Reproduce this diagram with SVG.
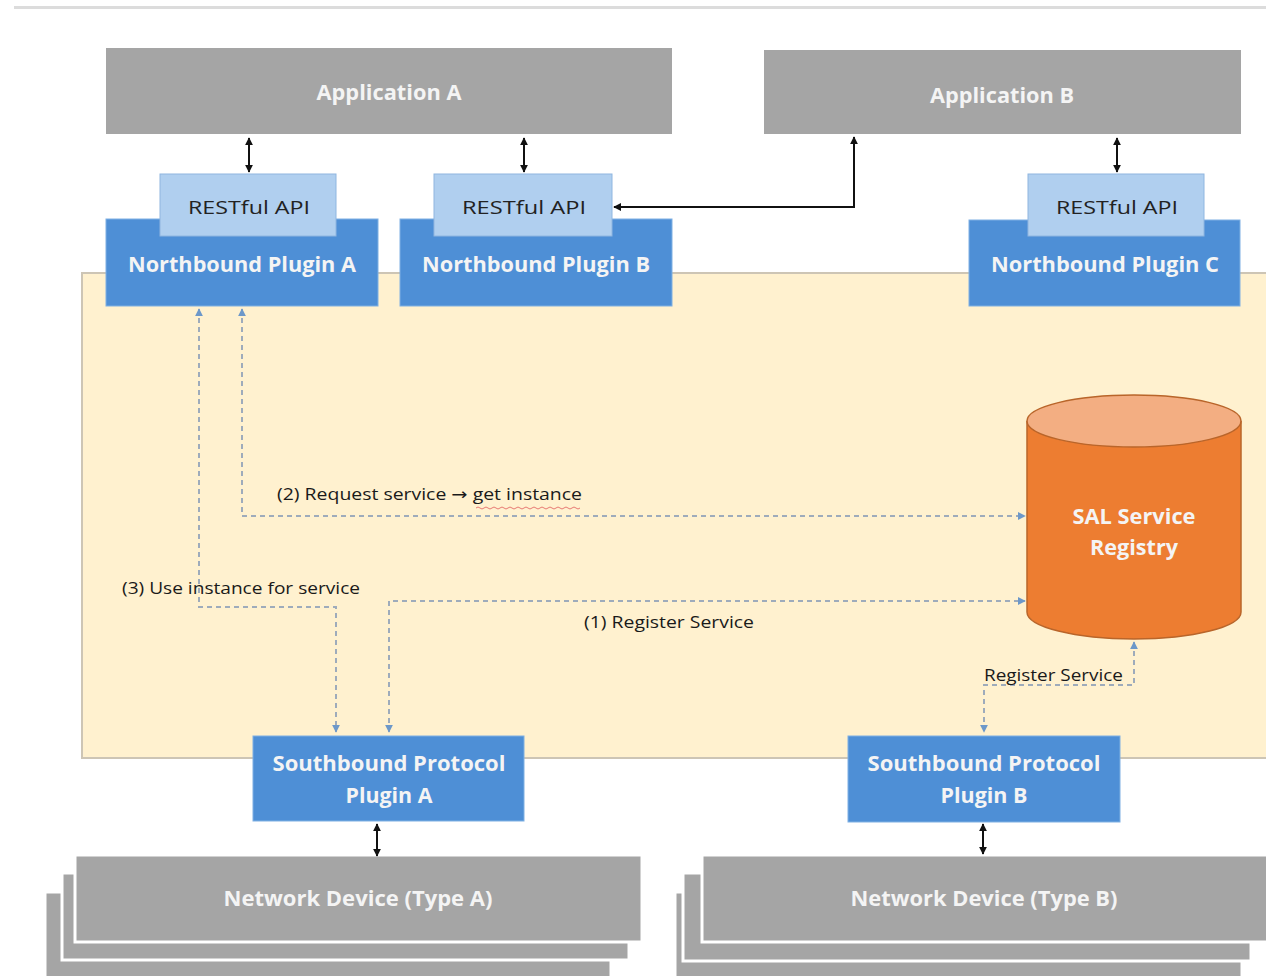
<svg xmlns="http://www.w3.org/2000/svg" width="1266" height="976" viewBox="0 0 1266 976">
  <defs>
    <marker id="blk" viewBox="0 0 10 10" refX="9" refY="5" markerWidth="4" markerHeight="4" orient="auto-start-reverse">
      <path d="M0,0 L10,5 L0,10 Z" fill="#111"/>
    </marker>
    <marker id="blu" viewBox="0 0 10 10" refX="9" refY="5" markerWidth="4" markerHeight="4" orient="auto-start-reverse">
      <path d="M0,0 L10,5 L0,10 Z" fill="#6d98c9"/>
    </marker>
    <style>
      .gray { fill: #a5a5a5; }
      .blue { fill: #4e8fd6; stroke: #7fb0e3; stroke-width: 1; }
      .api { fill: #b0cfef; stroke: #8fb6e0; stroke-width: 1; }
      .hdr { font-family: "Open Sans", "Noto Sans", sans-serif; font-weight: 700; font-size: 20.5px; fill: #f4f4f4; text-anchor: middle; }
      .api-t { font-family: "Open Sans", "Noto Sans", sans-serif; font-size: 18.5px; fill: #222; text-anchor: middle; }
      .lbl { font-family: "Open Sans", "Noto Sans", sans-serif; font-size: 16px; fill: #1a1a1a; }
      .arw { font-family: "DejaVu Sans", sans-serif; }
      .solid { fill: none; stroke: #111; stroke-width: 2; }
      .dash { fill: none; stroke: #9eabbb; stroke-width: 2; stroke-dasharray: 5 4; }
      .stack { fill: #a5a5a5; stroke: #fff; stroke-width: 3; }
    </style>
  </defs>

  <!-- page rule -->
  <rect x="14" y="6" width="1252" height="3" fill="#dcdcdc"/>

  <!-- controller area -->
  <g id="controller">
    <rect x="82" y="273" width="1200" height="485" fill="#fff1cf" stroke="#cdc5b5" stroke-width="2"/>
  </g>

  <g id="app-a">
    <rect class="gray" x="106" y="48" width="566" height="86"/>
    <text class="hdr" x="389" y="100" textLength="145" lengthAdjust="spacingAndGlyphs">Application A</text>
  </g>
  <g id="app-b">
    <rect class="gray" x="764" y="50" width="477" height="84"/>
    <text class="hdr" x="1002" y="103" textLength="144" lengthAdjust="spacingAndGlyphs">Application B</text>
  </g>

  <g id="nb-a">
    <rect class="blue" x="106" y="219" width="272" height="87"/>
    <rect class="api" x="160" y="174" width="176" height="62"/>
    <text class="api-t" x="249" y="214" textLength="122" lengthAdjust="spacingAndGlyphs">RESTful API</text>
    <text class="hdr" x="242" y="272" textLength="228" lengthAdjust="spacingAndGlyphs">Northbound Plugin A</text>
  </g>
  <g id="nb-b">
    <rect class="blue" x="400" y="219" width="272" height="87"/>
    <rect class="api" x="434" y="174" width="178" height="62"/>
    <text class="api-t" x="524" y="214" textLength="124" lengthAdjust="spacingAndGlyphs">RESTful API</text>
    <text class="hdr" x="536" y="272" textLength="228" lengthAdjust="spacingAndGlyphs">Northbound Plugin B</text>
  </g>
  <g id="nb-c">
    <rect class="blue" x="969" y="220" width="271" height="86"/>
    <rect class="api" x="1028" y="174" width="176" height="62"/>
    <text class="api-t" x="1117" y="214" textLength="122" lengthAdjust="spacingAndGlyphs">RESTful API</text>
    <text class="hdr" x="1105" y="272" textLength="228" lengthAdjust="spacingAndGlyphs">Northbound Plugin C</text>
  </g>

  <g id="registry">
    <path d="M1027,421 L1027,612 A107,27 0 0 0 1241,612 L1241,421" fill="#ed7d31" stroke="#b9652a" stroke-width="1.5"/>
    <ellipse cx="1134" cy="421" rx="107" ry="26" fill="#f3ae82" stroke="#b9652a" stroke-width="1.5"/>
    <text class="hdr" x="1134" y="524" textLength="123" lengthAdjust="spacingAndGlyphs">SAL Service</text>
    <text class="hdr" x="1134" y="555" textLength="88" lengthAdjust="spacingAndGlyphs">Registry</text>
  </g>

  <g id="sb-a">
    <rect class="blue" x="253" y="736" width="271" height="85"/>
    <text class="hdr" x="389" y="771" textLength="233" lengthAdjust="spacingAndGlyphs">Southbound Protocol</text>
    <text class="hdr" x="389" y="803" textLength="87" lengthAdjust="spacingAndGlyphs">Plugin A</text>
  </g>
  <g id="sb-b">
    <rect class="blue" x="848" y="736" width="272" height="86"/>
    <text class="hdr" x="984" y="771" textLength="233" lengthAdjust="spacingAndGlyphs">Southbound Protocol</text>
    <text class="hdr" x="984" y="803" textLength="87" lengthAdjust="spacingAndGlyphs">Plugin B</text>
  </g>

  <g id="dev-a">
    <rect class="stack" x="45" y="892" width="566" height="100"/>
    <rect class="stack" x="62" y="873" width="567" height="87"/>
    <rect class="stack" x="75" y="855" width="567" height="87"/>
    <text class="hdr" x="358" y="906" textLength="269" lengthAdjust="spacingAndGlyphs">Network Device (Type A)</text>
  </g>
  <g id="dev-b">
    <rect class="stack" x="675" y="892" width="567" height="100"/>
    <rect class="stack" x="683" y="873" width="568" height="88"/>
    <rect class="stack" x="702" y="855" width="580" height="87"/>
    <text class="hdr" x="984" y="906" textLength="267" lengthAdjust="spacingAndGlyphs">Network Device (Type B)</text>
  </g>

  <g id="connectors">
    <!-- application / plugin links -->
    <line class="solid" x1="249" y1="138" x2="249" y2="172" marker-start="url(#blk)" marker-end="url(#blk)"/>
    <line class="solid" x1="524" y1="138" x2="524" y2="172" marker-start="url(#blk)" marker-end="url(#blk)"/>
    <line class="solid" x1="1117" y1="138" x2="1117" y2="172" marker-start="url(#blk)" marker-end="url(#blk)"/>
    <polyline class="solid" points="614,207 854,207 854,137" marker-start="url(#blk)" marker-end="url(#blk)"/>
    <line class="solid" x1="377" y1="824" x2="377" y2="856" marker-start="url(#blk)" marker-end="url(#blk)"/>
    <line class="solid" x1="983" y1="824" x2="983" y2="854" marker-start="url(#blk)" marker-end="url(#blk)"/>

    <!-- (2) request service -->
    <polyline class="dash" points="242,309 242,516 1025,516" marker-start="url(#blu)" marker-end="url(#blu)"/>
    <!-- (3) use instance -->
    <polyline class="dash" points="199,309 199,607 336,607 336,732" marker-start="url(#blu)" marker-end="url(#blu)"/>
    <!-- (1) register service -->
    <polyline class="dash" points="389,732 389,601 1025,601" marker-start="url(#blu)" marker-end="url(#blu)"/>
    <!-- register service, plugin B -->
    <polyline class="dash" points="1134,642 1134,685 984,685 984,732" marker-start="url(#blu)" marker-end="url(#blu)"/>
  </g>

  <g id="labels">
    <text class="lbl" x="277" y="500" textLength="305" lengthAdjust="spacingAndGlyphs">(2) Request service <tspan class="arw">→</tspan> get instance</text>
    <path d="M476,508 q2,-2 4,0 t4,0 t4,0 t4,0 t4,0 t4,0 t4,0 t4,0 t4,0 t4,0 t4,0 t4,0 t4,0 t4,0 t4,0 t4,0 t4,0 t4,0 t4,0 t4,0 t4,0 t4,0 t4,0 t4,0 t4,0 t4,0" fill="none" stroke="#e05a5a" stroke-width="0.8"/>
    <text class="lbl" x="122" y="594" textLength="238" lengthAdjust="spacingAndGlyphs">(3) Use instance for service</text>
    <text class="lbl" x="584" y="628" textLength="170" lengthAdjust="spacingAndGlyphs">(1) Register Service</text>
    <text class="lbl" x="984" y="681" textLength="139" lengthAdjust="spacingAndGlyphs">Register Service</text>
  </g>
</svg>
